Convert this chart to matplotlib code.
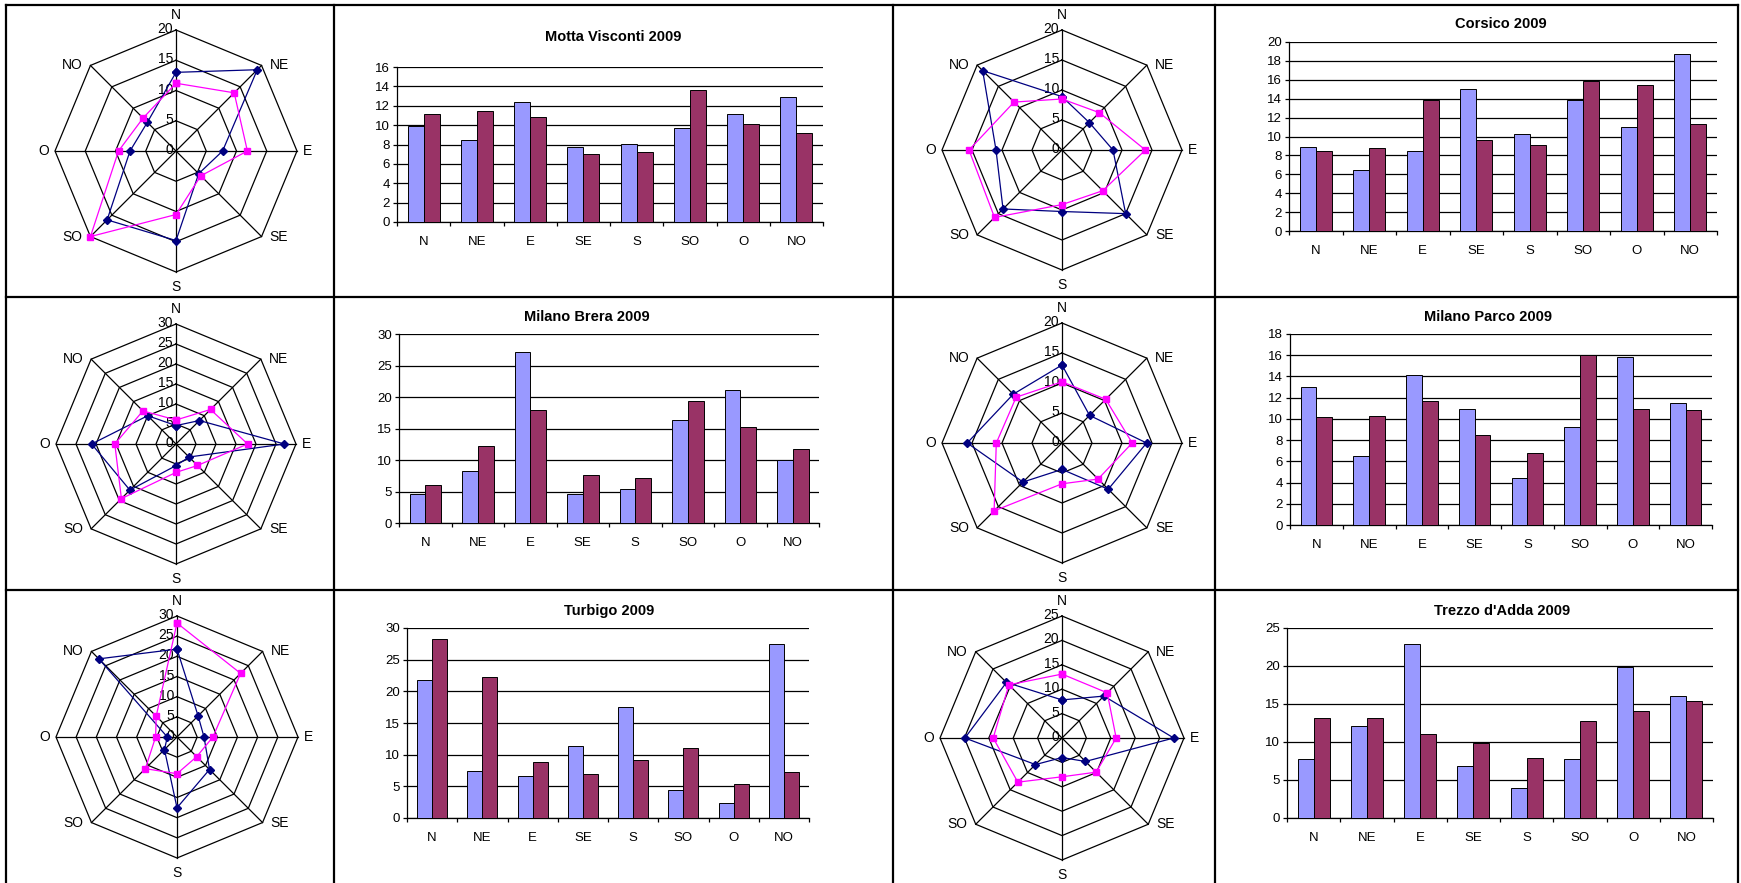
import numpy as np
import matplotlib
matplotlib.use('Agg')
import matplotlib.pyplot as plt
from matplotlib.lines import Line2D

plt.rcParams['font.family'] = ['Liberation Sans', 'DejaVu Sans']

directions = ['N', 'NE', 'E', 'SE', 'S', 'SO', 'O', 'NO']

motta_blue = [9.9, 8.5, 12.4, 7.7, 8.1, 9.7, 11.1, 12.95]
motta_red = [11.1, 11.5, 10.8, 7.0, 7.2, 13.6, 10.1, 9.15]
motta_radar_blue = [13.0, 19.0, 7.7, 5.3, 14.8, 16.1, 7.6, 6.7]
motta_radar_red = [11.2, 13.6, 11.8, 5.8, 10.5, 20.0, 9.5, 7.7]
corsico_blue = [8.9, 6.45, 8.5, 15.0, 10.25, 13.9, 11.0, 18.7]
corsico_red = [8.5, 8.8, 13.9, 9.6, 9.1, 15.9, 15.5, 11.3]
brera_blue = [4.6, 8.3, 27.1, 4.6, 5.4, 16.3, 21.1, 10.0]
brera_red = [6.0, 12.2, 17.9, 7.6, 7.1, 19.3, 15.3, 11.7]
parco_blue = [13.0, 6.5, 14.1, 10.9, 4.4, 9.2, 15.8, 11.5]
parco_red = [10.2, 10.3, 11.7, 8.5, 6.8, 16.0, 10.95, 10.8]
turbigo_blue = [21.8, 7.4, 6.7, 11.4, 17.55, 4.4, 2.4, 27.4]
turbigo_red = [28.25, 22.3, 8.9, 6.9, 9.1, 11.1, 5.3, 7.3]
trezzo_blue = [7.8, 12.15, 22.9, 6.8, 4.0, 7.7, 19.9, 16.1]
trezzo_red = [13.1, 13.1, 11.1, 9.9, 7.95, 12.8, 14.1, 15.4]

W, H = 1741, 883
fig = plt.figure(figsize=(W / 100, H / 100), dpi=100)
fig.patch.set_facecolor('white')


def px_rect(left, top, w, h):
    return [left / W, 1 - (top + h) / H, w / W, h / H]


BLUE_BAR = '#9999FF'
RED_BAR = '#993366'
NAVY = '#000080'
MAGENTA = '#FF00FF'


def radar(cx, cy, R, rmax, step, blue, red):
    ax = fig.add_axes(px_rect(cx - R, cy - R, 2 * R, 2 * R), projection='polar')
    ax.set_theta_zero_location('N')
    ax.set_theta_direction(-1)
    ax.set_ylim(0, rmax)
    ax.grid(False)
    ax.spines['polar'].set_visible(False)
    ax.set_xticks([])
    ax.set_yticks([])
    ax.patch.set_visible(False)
    th = np.arange(8) * np.pi / 4
    thc = np.append(th, th[0])
    for v in np.arange(step, rmax + 0.01, step):
        ax.plot(thc, [v] * 9, color='black', lw=0.9, zorder=1, clip_on=False)
    for t in th:
        ax.plot([t, t], [0, rmax], color='black', lw=0.9, zorder=1, clip_on=False)
    for v in np.arange(0, rmax + 0.01, step):
        ax.annotate(f'{v:g}', xy=(0, v), xytext=(-3, 1), textcoords='offset pixels',
                    ha='right', va='center', fontsize=10, annotation_clip=False)
    offs = {'N': (0, 8, 'center', 'bottom'), 'NE': (8, 0, 'left', 'center'),
            'E': (6, 0, 'left', 'center'), 'SE': (8, 0, 'left', 'center'),
            'S': (0, -8, 'center', 'top'), 'SO': (-8, 0, 'right', 'center'),
            'O': (-6, 0, 'right', 'center'), 'NO': (-8, 0, 'right', 'center')}
    for t, d in zip(th, directions):
        dx, dy, ha, va = offs[d]
        ax.annotate(d, xy=(t, rmax), xytext=(dx, dy), textcoords='offset pixels',
                    ha=ha, va=va, fontsize=10, annotation_clip=False)
    ax.plot(thc, list(blue) + [blue[0]], color=NAVY, lw=0.9, marker='D', ms=4,
            zorder=3, clip_on=False)
    ax.plot(thc, list(red) + [red[0]], color=MAGENTA, lw=0.9, marker='s', ms=4.5,
            zorder=4, clip_on=False)


def bars(left, top, right, bottom, title, tx, ty, ymax, step, blue, red):
    ax = fig.add_axes(px_rect(left, top, right - left, bottom - top))
    x = np.arange(8) + 0.5
    ax.bar(x - 0.15, blue, 0.3, color=BLUE_BAR, edgecolor='black', lw=0.7, zorder=3)
    ax.bar(x + 0.15, red, 0.3, color=RED_BAR, edgecolor='black', lw=0.7, zorder=3)
    ax.set_xlim(0, 8)
    ax.set_ylim(0, ymax)
    ax.set_yticks(np.arange(0, ymax + 0.01, step))
    ax.yaxis.grid(True, color='black', lw=0.9)
    ax.set_axisbelow(True)
    ax.set_xticks(np.arange(9))
    ax.set_xticklabels([])
    ax.set_xticks(x, minor=True)
    ax.set_xticklabels(directions, minor=True)
    ax.tick_params(axis='x', which='minor', length=0, pad=10, labelsize=9.5)
    ax.tick_params(axis='x', which='major', length=3, direction='out', width=0.9)
    ax.tick_params(axis='y', length=3, labelsize=9.5, pad=2, width=0.9)
    for s in ['top', 'right']:
        ax.spines[s].set_visible(False)
    for s in ['left', 'bottom']:
        ax.spines[s].set_linewidth(0.9)
    fig.text(tx / W, 1 - ty / H, title, ha='center', va='center',
             fontweight='bold', fontsize=10.5)


# Row 1
radar(176, 151, 121, 20, 5, motta_radar_blue, motta_radar_red)
bars(397, 67, 823, 222, 'Motta Visconti 2009', 613, 37, 16, 2, motta_blue, motta_red)
radar(1062, 150, 120, 20, 5, corsico_blue, corsico_red)
bars(1289, 42, 1717, 231, 'Corsico 2009', 1501, 24, 20, 2, corsico_blue, corsico_red)
# Row 2
radar(176, 444, 120, 30, 5, brera_blue, brera_red)
bars(399, 334, 819, 523, 'Milano Brera 2009', 587, 317, 30, 5, brera_blue, brera_red)
radar(1062, 443, 120, 20, 5, parco_blue, parco_red)
bars(1290, 334, 1712, 525, 'Milano Parco 2009', 1488, 317, 18, 2, parco_blue, parco_red)
# Row 3
radar(177, 737, 121, 30, 5, turbigo_blue, turbigo_red)
bars(407, 628, 809, 818, 'Turbigo 2009', 609, 611, 30, 5, turbigo_blue, turbigo_red)
radar(1062, 738, 122, 25, 5, trezzo_blue, trezzo_red)
bars(1287, 628, 1713, 818, "Trezzo d'Adda 2009", 1502, 611, 25, 5, trezzo_blue, trezzo_red)

# cell borders
xs = [6, 334, 893, 1215, 1738]
ys = [5, 297, 590]
for xv in xs:
    fig.add_artist(Line2D([xv / W, xv / W], [1 - 5 / H, 0], color='black', lw=1.6,
                          transform=fig.transFigure))
for yv in ys:
    fig.add_artist(Line2D([6 / W, 1738 / W], [1 - yv / H, 1 - yv / H], color='black',
                          lw=1.6, transform=fig.transFigure))

fig.savefig('out.png', dpi=100, facecolor='white')
